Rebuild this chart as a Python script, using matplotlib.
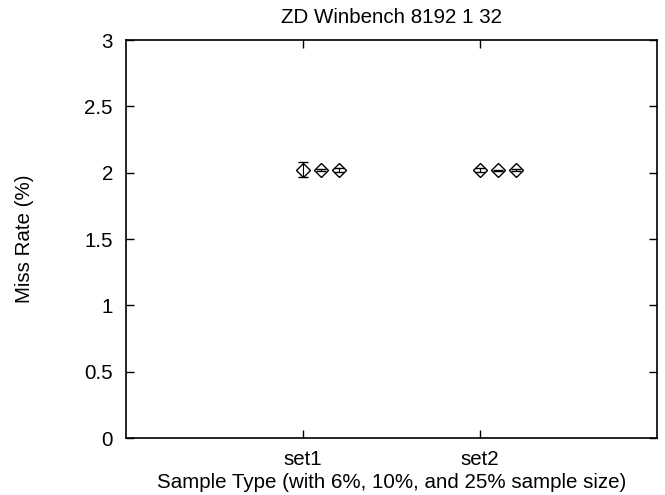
import matplotlib
matplotlib.use("Agg")
import matplotlib.pyplot as plt
import numpy as np

plt.rcParams['font.family'] = ['Liberation Sans', 'DejaVu Sans']

categories = ["set1", "set2"]
sample_sizes = ["6%", "10%", "25%"]
# miss rate per category (rows) and sample size (columns)
miss_rate = [[2.02, 2.02, 2.02],
             [2.02, 2.02, 2.02]]
err_low = [[0.055, 0.006, 0.015],
           [0.015, 0.004, 0.006]]
err_high = [[0.062, 0.006, 0.015],
            [0.015, 0.004, 0.006]]
offsets = [0.0, 0.1, 0.2]

fig = plt.figure(figsize=(6.65, 4.95), dpi=100)
ax = fig.add_axes([0.1895, 0.115, 0.799, 0.804])

for ci, cat in enumerate(categories):
    for si in range(len(sample_sizes)):
        x = ci + 1 + offsets[si]
        ax.errorbar([x], [miss_rate[ci][si]],
                    yerr=[[err_low[ci][si]], [err_high[ci][si]]],
                    fmt='D', mfc='none', mec='black', ms=7, mew=1.0,
                    ecolor='black', elinewidth=0.8, capsize=3.6, capthick=0.8)

ax.set_xlim(0, 3)
ax.set_ylim(0, 3)
ax.set_xticks([1, 2])
ax.set_xticklabels(categories)
ax.set_yticks(np.arange(0, 3.01, 0.5))
ax.set_yticklabels(["0", "0.5", "1", "1.5", "2", "2.5", "3"])
ax.tick_params(axis='both', direction='in', length=6, width=1.0,
               top=True, right=True, labelsize=14.8)
ax.tick_params(axis='y', pad=9.4)
ax.tick_params(axis='x', pad=8.5)
for s in ax.spines.values():
    s.set_linewidth(1.2)

ax.set_title("ZD Winbench 8192 1 32", fontsize=14.8, pad=12)
ax.set_xlabel("Sample Type (with 6%, 10%, and 25% sample size)", fontsize=14.8, labelpad=3)
ax.set_ylabel("Miss Rate (%)", fontsize=14.8)
ax.yaxis.set_label_coords(-0.1725, 0.5)

fig.savefig("out.png", dpi=100)
